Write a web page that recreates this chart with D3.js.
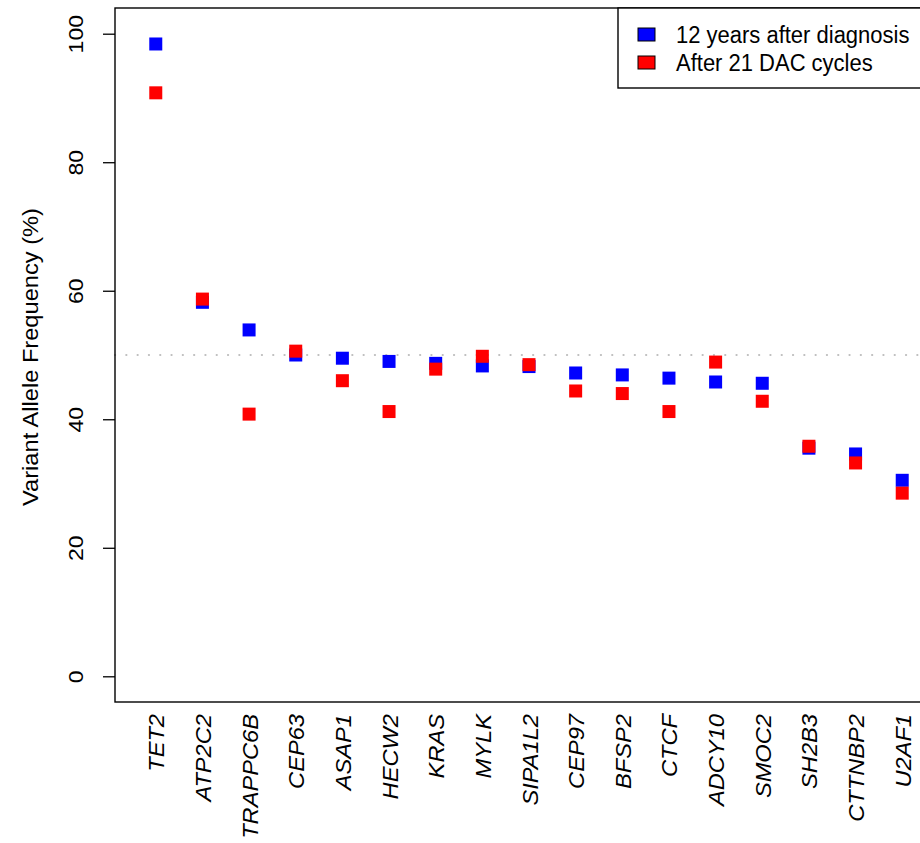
<!DOCTYPE html>
<html>
<head>
<meta charset="utf-8">
<script src="https://cdn.jsdelivr.net/npm/d3@7"></script>
<style>
  html, body { margin: 0; padding: 0; background: #fff; }
  svg { display: block; font-family: "Liberation Sans", Arial, Helvetica, sans-serif; }
</style>
</head>
<body>
<div id="chart"></div>
<script>
// Genes, ordered by variant allele frequency at 12 years
const genes = ["TET2", "ATP2C2", "TRAPPC6B", "CEP63", "ASAP1", "HECW2", "KRAS", "MYLK",
  "SIPA1L2", "CEP97", "BFSP2", "CTCF", "ADCY10", "SMOC2", "SH2B3", "CTTNBP2", "U2AF1"];

// VAF (%) 12 years after diagnosis
const vafDiagnosis = [98.4, 58.2, 53.9, 50.0, 49.5, 49.0, 48.7, 48.3,
  48.2, 47.2, 46.9, 46.4, 45.8, 45.6, 35.5, 34.6, 30.5];

// VAF (%) after 21 DAC cycles
const vafDAC = [90.8, 58.7, 40.8, 50.6, 46.0, 41.2, 47.8, 49.8,
  48.5, 44.4, 44.0, 41.2, 48.9, 42.8, 35.8, 33.2, 28.5];

const yTicks = [0, 20, 40, 60, 80, 100];
const heterozygousLine = 50;

const seriesNames = ["12 years after diagnosis", "After 21 DAC cycles"];
const seriesColors = ["#0000ff", "#ff0000"];

const W = 920, H = 843;
const plot = { left: 115, top: 8, bottom: 702, right: 943 };
const stretch = 1.1; // text is drawn slightly taller than wide

const svg = d3.select("#chart").append("svg")
  .attr("width", W).attr("height", H);

const x = d3.scaleLinear()
  .domain([0.126, genes.length + 0.874])
  .range([plot.left, plot.right]);

const y = d3.scaleLinear()
  .domain([-4, 104])
  .range([plot.bottom, plot.top]);

// dotted reference line at 50 %
svg.append("line")
  .attr("x1", plot.left).attr("x2", plot.right)
  .attr("y1", y(heterozygousLine)).attr("y2", y(heterozygousLine))
  .attr("stroke", "#bdbdbd")
  .attr("stroke-width", 2.2)
  .attr("stroke-linecap", "round")
  .attr("stroke-dasharray", "0.1 11.2");

// y axis
const yAxis = d3.axisLeft(y).tickValues(yTicks).tickSize(12).tickPadding(0);
const yG = svg.append("g")
  .attr("transform", `translate(${plot.left},0)`)
  .call(yAxis);
yG.select(".domain").remove();
yG.selectAll(".tick line").attr("stroke", "#000").attr("stroke-width", 1.3);
yG.selectAll(".tick text")
  .attr("font-size", 21)
  .attr("fill", "#000")
  .attr("text-anchor", "middle")
  .attr("transform", `translate(-32,0) scale(1,${stretch}) rotate(-90)`)
  .attr("x", 0).attr("y", 0)
  .attr("dy", "0");

// y axis title
svg.append("text")
  .attr("transform", `translate(38,${(plot.top + plot.bottom) / 2 + 2}) scale(1,${stretch}) rotate(-90)`)
  .attr("text-anchor", "middle")
  .attr("font-size", 21.5)
  .attr("fill", "#000")
  .text("Variant Allele Frequency (%)");

// gene labels, vertical and italic, no tick marks
const xAxis = d3.axisBottom(x)
  .tickValues(d3.range(1, genes.length + 1))
  .tickFormat(i => genes[i - 1])
  .tickSize(0);
const xG = svg.append("g")
  .attr("transform", `translate(0,${plot.bottom})`)
  .call(xAxis);
xG.select(".domain").remove();
xG.selectAll(".tick text")
  .attr("font-size", 21.5)
  .attr("font-style", "italic")
  .attr("fill", "#000")
  .attr("text-anchor", "end")
  .attr("x", 0).attr("y", 0).attr("dy", 0)
  .attr("transform", `translate(8,12) scale(1,${stretch}) rotate(-90)`);

// points: blue first, red drawn on top
const size = 13;
const series = [vafDiagnosis, vafDAC];
series.forEach((vals, s) => {
  svg.append("g")
    .selectAll("rect")
    .data(vals)
    .join("rect")
    .attr("x", (d, i) => x(i + 1) - size / 2)
    .attr("y", d => y(d) - size / 2)
    .attr("width", size)
    .attr("height", size)
    .attr("fill", seriesColors[s]);
});

// plot frame
svg.append("rect")
  .attr("x", plot.left).attr("y", plot.top)
  .attr("width", plot.right - plot.left)
  .attr("height", plot.bottom - plot.top)
  .attr("fill", "none")
  .attr("stroke", "#000")
  .attr("stroke-width", 1.4);

// legend
const lg = svg.append("g");
lg.append("rect")
  .attr("x", 618).attr("y", plot.top)
  .attr("width", 340).attr("height", 80)
  .attr("fill", "#fff")
  .attr("stroke", "#000")
  .attr("stroke-width", 1.4);
seriesNames.forEach((name, i) => {
  const cy = 34.5 + i * 28;
  lg.append("rect")
    .attr("x", 638).attr("y", cy - 6.5)
    .attr("width", 17).attr("height", 13)
    .attr("fill", seriesColors[i])
    .attr("stroke", "#000")
    .attr("stroke-width", 1);
  lg.append("text")
    .attr("transform", `translate(676,${cy}) scale(1,${stretch})`)
    .attr("dy", "0.36em")
    .attr("font-size", 22)
    .attr("fill", "#000")
    .text(name);
});
</script>
</body>
</html>
